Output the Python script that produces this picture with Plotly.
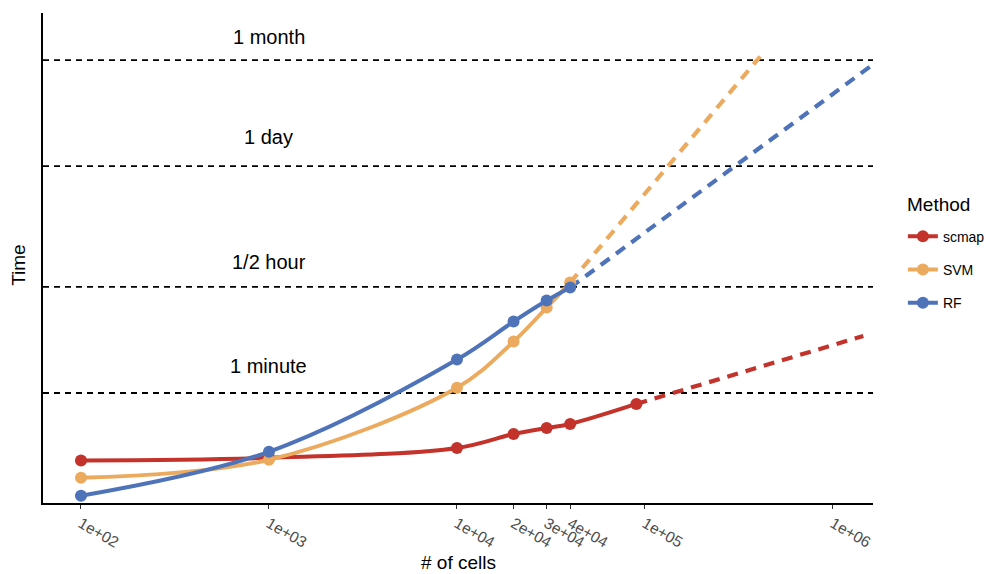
import numpy as np
import plotly.graph_objects as go

# Measured run time (seconds) per method against number of cells
cells = [1e2, 1e3, 1e4, 2e4, 3e4, 4e4]
scmap_cells = [1e2, 1e3, 1e4, 2e4, 3e4, 4e4, 9e4]
scmap_time = [6.9, 7.5, 10.3, 16.1, 19.5, 22.2, 42.2]
svm_time = [3.95, 7.05, 71, 312, 929, 2072]
rf_time = [2.22, 9.1, 175, 592, 1161, 1766]

# Projected run time (extrapolation endpoints)
scmap_proj_cells, scmap_proj_time = 1.45e6, 374
svm_proj_cells, svm_proj_time = 4.1e5, 2.91e6
rf_proj_cells, rf_proj_time = 1.63e6, 2.25e6

# Reference durations drawn as dashed guides
ref_labels = ["1 minute", "1/2 hour", "1 day", "1 month"]
ref_seconds = [60, 1800, 86400, 2592000]
ref_label_shift = [14, 12, 16, 10]

tick_vals = [1e2, 1e3, 1e4, 2e4, 3e4, 4e4, 1e5, 1e6]
tick_text = ["1e+02", "1e+03", "1e+04", "2e+04", "3e+04", "4e+04", "1e+05", "1e+06"]

colors = {"scmap": "#C3322B", "SVM": "#ECAA5E", "RF": "#4F73B9"}

x_range = [1.798, 6.213]
y_range = [0.246, 7.07]

fig = go.Figure()

# Horizontal guides
for sec in ref_seconds:
    fig.add_trace(go.Scatter(
        x=[10 ** x_range[0], 10 ** x_range[1]], y=[sec, sec],
        mode="lines", line=dict(color="black", width=1.8, dash="6px,5px"),
        showlegend=False, hoverinfo="skip",
    ))

series = [
    ("scmap", scmap_cells, scmap_time, scmap_proj_cells, scmap_proj_time),
    ("SVM", cells, svm_time, svm_proj_cells, svm_proj_time),
    ("RF", cells, rf_time, rf_proj_cells, rf_proj_time),
]

# Dashed projections
for name, xs, ys, px, py in series:
    fig.add_trace(go.Scatter(
        x=[xs[-1], px], y=[ys[-1], py], mode="lines",
        line=dict(color=colors[name], width=4.2, dash="11px,8px"),
        showlegend=False, legendgroup=name, hoverinfo="skip",
    ))

# Measured curves
for name, xs, ys, px, py in series:
    fig.add_trace(go.Scatter(
        x=xs, y=ys, name=name, mode="lines+markers", legendgroup=name,
        line=dict(color=colors[name], width=4, shape="spline", smoothing=1.0),
        marker=dict(color=colors[name], size=12),
    ))

for lab, sec, sh in zip(ref_labels, ref_seconds, ref_label_shift):
    fig.add_annotation(
        x=3, y=np.log10(sec), xref="x", yref="y", text=lab, showarrow=False,
        yanchor="bottom", yshift=sh, font=dict(size=20, color="black"),
    )

# Axis titles
fig.add_annotation(x=0.5, y=-0.1224, xref="paper", yref="paper", text="# of cells",
                   showarrow=False, xanchor="center", yanchor="middle",
                   font=dict(size=19, color="black"))
fig.add_annotation(x=-0.0289, y=0.486, xref="paper", yref="paper", text="Time",
                   showarrow=False, textangle=-90, xanchor="center", yanchor="middle",
                   font=dict(size=19, color="black"))

# Legend heading
fig.add_annotation(x=1.039, y=0.610, xref="paper", yref="paper", text="Method",
                   showarrow=False, xanchor="left", yanchor="middle",
                   font=dict(size=19, color="black"))

fig.update_layout(
    width=992, height=574,
    margin=dict(l=43, r=119, t=13, b=71, autoexpand=False),
    plot_bgcolor="white", paper_bgcolor="white",
    font=dict(family="Liberation Sans, Arial, sans-serif", color="black"),
    showlegend=True,
    legend=dict(
        font=dict(size=14), x=1.036, y=0.576, xanchor="left", yanchor="top",
        tracegroupgap=12, bgcolor="rgba(0,0,0,0)",
    ),
    xaxis=dict(
        type="log", range=x_range, tickvals=tick_vals, ticktext=tick_text,
        tickangle=30, ticks="outside", ticklen=4, tickwidth=1.2, tickcolor="#333333",
        tickfont=dict(size=15.5, color="#4D4D4D"), showgrid=False, zeroline=False,
        showline=True, linecolor="black", linewidth=1.6,
    ),
    yaxis=dict(
        type="log", range=y_range, showticklabels=False, ticks="", showgrid=False,
        zeroline=False, showline=True, linecolor="black", linewidth=1.6,
    ),
)

fig.write_html("out.html")
